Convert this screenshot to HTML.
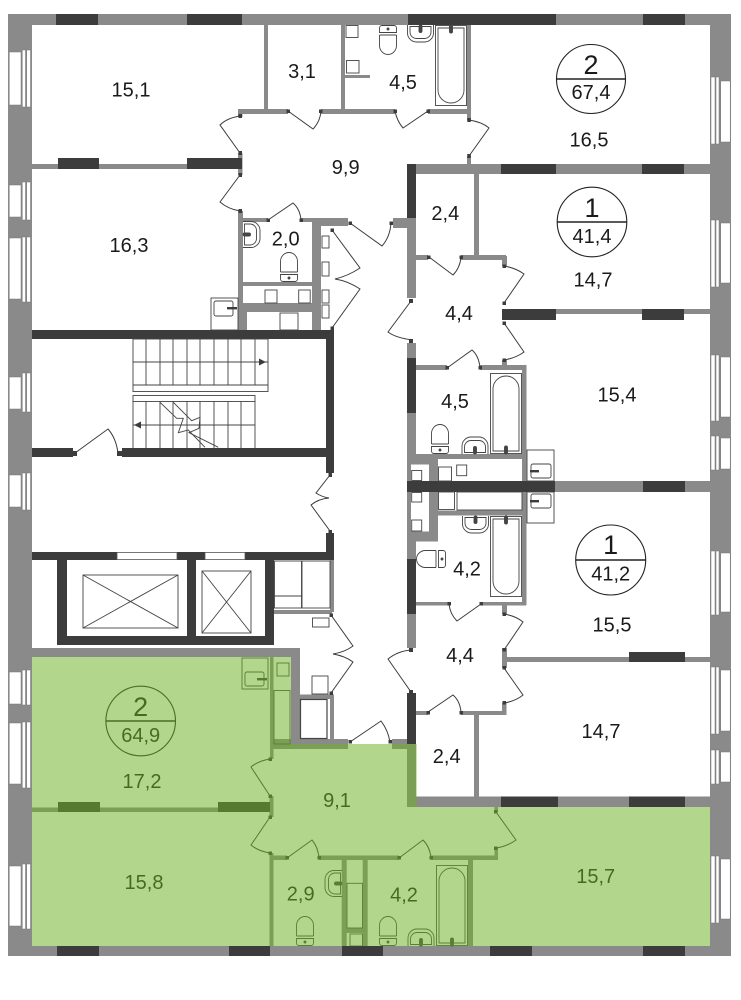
<!DOCTYPE html>
<html><head><meta charset="utf-8"><style>
html,body{margin:0;padding:0;background:#fff}
svg{display:block}
text{font-family:"Liberation Sans",sans-serif;fill:#1a1a1a;text-anchor:middle}
.l{font-size:20px}.n{font-size:27px}
.g{fill:#8a8a8a}.d{fill:#3c3c3c}
.s{fill:none;stroke:#444;stroke-width:.9}
.f{fill:#fff;stroke:#555;stroke-width:.8}
.w{fill:#fff;stroke:#777;stroke-width:.5}
.h{fill:#3c3c3c}
</style></head><body>
<svg width="741" height="1000" viewBox="0 0 741 1000" xmlns="http://www.w3.org/2000/svg">
<defs>
<g id="t" class="s"><path d="M0.5 20V9.5a8.5 9 0 0 1 17 0V20"/><path d="M0.5 22.5H17.5V27a2.5 2.5 0 0 1-2.5 2.5H3A2.5 2.5 0 0 1 0.5 27Z"/><line x1="0.5" y1="20" x2="17.5" y2="20"/><circle cx="9" cy="26" r="1" fill="#444"/></g>
<g id="k" class="s"><path d="M0.5 0V8a9 9 0 0 0 9 9H17.5a9 9 0 0 0 9-9V0"/><path d="M3 1.5H24V7a6.5 6.5 0 0 1-6.5 6.5H9.5A6.5 6.5 0 0 1 3 7Z"/><rect x="12" y="0" width="3" height="7.5" rx="1.5" fill="#444"/></g>
<g id="b" class="s"><rect x="0.5" y="0.5" width="31" height="80"/><path d="M3 3H29V65a13 13 0 0 1-26 0Z"/><rect x="14.5" y="0" width="3" height="8" rx="1.5" fill="#444"/></g>
</defs>

<!-- outer walls -->
<rect class="g" x="8" y="14" width="723" height="11"/>
<rect class="g" x="8" y="14" width="24" height="942"/>
<rect class="g" x="710" y="14" width="21" height="942"/>
<rect class="g" x="8" y="946" width="723" height="10"/>
<g class="d">
<rect x="56" y="14" width="42" height="11"/><rect x="187" y="14" width="55" height="11"/><rect x="408" y="14" width="148" height="11"/><rect x="643" y="14" width="42" height="11"/>
<rect x="57" y="946" width="42" height="10"/><rect x="229" y="946" width="41" height="10"/><rect x="342" y="946" width="41" height="10"/><rect x="490" y="946" width="42" height="10"/><rect x="643" y="946" width="42" height="10"/>
</g>

<!-- left windows -->
<g class="w">
<rect x="9.3" y="52" width="11.7" height="53"/><rect x="22.3" y="50" width="3.2" height="57"/><rect x="26.7" y="50" width="3.8" height="57"/>
<rect x="9.3" y="185" width="11.7" height="32"/><rect x="22.3" y="182" width="3.2" height="38"/><rect x="26.7" y="182" width="3.8" height="38"/>
<rect x="9.3" y="238" width="11.7" height="61"/><rect x="22.3" y="237" width="3.2" height="65"/><rect x="26.7" y="237" width="3.8" height="65"/>
<rect x="9.3" y="377" width="11.7" height="32"/><rect x="22.3" y="373" width="3.2" height="39"/><rect x="26.7" y="373" width="3.8" height="39"/>
<rect x="9.3" y="475" width="11.7" height="32"/><rect x="22.3" y="473" width="3.2" height="37"/><rect x="26.7" y="473" width="3.8" height="37"/>
<rect x="9.3" y="672" width="11.7" height="32"/><rect x="22.3" y="670" width="3.2" height="35"/><rect x="26.7" y="670" width="3.8" height="35"/>
<rect x="9.3" y="723" width="11.7" height="61"/><rect x="22.3" y="722" width="3.2" height="66"/><rect x="26.7" y="722" width="3.8" height="66"/>
<rect x="9.3" y="866" width="11.7" height="60"/><rect x="22.3" y="864" width="3.2" height="65"/><rect x="26.7" y="864" width="3.8" height="65"/>
<!-- right windows -->
<rect x="720.7" y="81" width="9.5" height="61"/><rect x="711" y="77" width="4" height="67"/><rect x="716" y="77" width="3" height="67"/>
<rect x="720.7" y="223" width="9.5" height="60"/><rect x="711" y="220" width="4" height="67"/><rect x="716" y="220" width="3" height="67"/>
<rect x="720.7" y="357" width="9.5" height="60"/><rect x="711" y="355" width="4" height="66"/><rect x="716" y="355" width="3" height="66"/>
<rect x="720.7" y="438" width="9.5" height="31"/><rect x="711" y="436" width="4" height="34"/><rect x="716" y="436" width="3" height="34"/>
<rect x="720.7" y="553" width="9.5" height="59"/><rect x="711" y="551" width="4" height="64"/><rect x="716" y="551" width="3" height="64"/>
<rect x="720.7" y="670" width="9.5" height="61"/><rect x="711" y="667" width="4" height="67"/><rect x="716" y="667" width="3" height="67"/>
<rect x="720.7" y="752" width="9.5" height="30"/><rect x="711" y="750" width="4" height="34"/><rect x="716" y="750" width="3" height="34"/>
<rect x="720.7" y="859" width="9.5" height="60"/><rect x="711" y="856" width="4" height="67"/><rect x="716" y="856" width="3" height="67"/>
</g>

<!-- interior gray walls -->
<g class="g">
<rect x="32" y="164" width="209" height="5"/>
<rect x="264" y="25" width="4" height="86"/>
<rect x="238" y="109" width="50" height="5"/><rect x="321" y="109" width="74" height="5"/><rect x="428" y="109" width="43" height="5"/>
<rect x="341" y="25" width="4" height="85"/><rect x="345" y="75" width="25" height="3"/>
<rect x="467" y="25" width="4" height="95"/><rect x="467" y="156" width="4" height="9"/>
<rect x="238" y="109" width="4.5" height="8"/><rect x="238" y="153" width="4.5" height="22"/>
<rect x="238" y="211" width="5" height="119"/>
<rect x="238" y="218" width="30" height="4"/><rect x="301" y="218" width="47" height="4"/><rect x="312" y="218" width="36" height="8"/>
<rect x="312" y="218" width="9" height="112"/>
<rect x="242" y="282" width="70" height="4"/><rect x="238" y="303" width="74" height="9"/><rect x="238" y="303" width="9" height="27"/>
<rect x="407" y="164" width="303" height="10"/>
<rect x="474" y="174" width="5" height="84"/>
<rect x="407" y="218" width="9" height="80"/><rect x="393" y="218" width="23" height="10"/>
<rect x="416" y="255" width="12" height="5"/><rect x="461" y="255" width="45" height="5"/><rect x="502" y="256" width="5" height="10"/>
<rect x="502" y="309" width="208" height="5"/>
<rect x="407" y="343" width="9" height="112"/><rect x="407" y="454" width="4" height="29"/><rect x="502" y="360" width="5" height="7"/>
<rect x="416" y="365" width="31" height="5"/><rect x="480" y="365" width="46.5" height="5"/>
<rect x="522" y="365" width="4.5" height="116"/><rect x="522" y="492" width="4.5" height="113"/>
<rect x="407" y="454" width="115" height="5"/><rect x="407" y="454" width="31" height="10.5"/><rect x="429" y="454" width="9" height="87.5"/><rect x="407" y="531.5" width="31" height="10"/>
<rect x="438" y="510.5" width="88" height="5"/>
<rect x="555" y="481" width="155" height="11"/>
<rect x="407" y="492" width="4" height="40"/><rect x="407" y="531" width="9" height="117"/>
<rect x="416" y="602" width="33" height="3.5"/><rect x="481" y="602" width="45" height="3.5"/>
<rect x="502" y="605" width="5" height="9"/><rect x="502" y="648" width="5" height="20"/>
<rect x="505" y="657" width="205" height="5"/>
<rect x="416" y="711" width="12" height="4"/><rect x="461" y="711" width="45" height="4"/><rect x="502" y="703" width="4.5" height="12"/>
<rect x="474" y="713" width="5" height="84"/>
<rect x="407" y="743" width="9" height="64"/><rect x="392" y="739" width="24" height="10"/>
<rect x="407" y="796.5" width="303" height="10.5"/>
<rect x="32" y="648" width="268" height="9"/><rect x="291" y="648" width="9" height="96"/>
<rect x="270" y="657" width="3.5" height="102"/>
<rect x="270" y="739" width="78" height="10"/>
<rect x="300" y="694.5" width="34" height="4.5"/><rect x="330" y="694.5" width="4" height="45"/>
<rect x="330" y="560" width="4" height="52"/><rect x="274" y="610" width="58" height="4"/>
<rect x="269.5" y="796" width="4" height="21"/><rect x="269.5" y="853" width="4" height="93"/>
<rect x="32" y="807.5" width="238" height="4.5"/>
<rect x="270" y="855.5" width="17" height="4.5"/><rect x="319" y="855.5" width="80" height="4.5"/><rect x="431" y="855.5" width="67" height="4.5"/>
<rect x="494.5" y="848" width="3.5" height="12"/><rect x="494.5" y="807" width="3.5" height="5"/>
<rect x="341.7" y="860" width="5" height="86"/><rect x="362.7" y="860" width="5" height="86"/><rect x="346" y="928" width="18" height="5"/>
<rect x="468" y="858" width="5" height="88"/>
</g>

<!-- dark walls -->
<g class="d">
<rect x="58" y="158" width="41" height="11"/><rect x="187" y="158" width="55" height="11"/>
<rect x="501" y="164" width="55" height="10"/><rect x="642" y="164" width="42" height="10"/>
<rect x="407" y="164" width="9" height="54"/>
<rect x="502" y="309" width="54" height="11"/><rect x="642" y="309" width="42" height="11"/>
<rect x="407" y="358" width="9" height="55"/>
<rect x="407" y="481" width="148" height="11"/><rect x="643" y="481" width="42" height="11"/>
<rect x="407" y="559" width="9" height="55"/>
<rect x="629" y="652" width="56" height="10"/>
<rect x="407" y="693" width="9" height="51"/>
<rect x="501" y="796.5" width="57" height="10.5"/><rect x="629" y="796.5" width="56" height="10.5"/>
<rect x="58" y="802" width="42" height="10"/><rect x="218" y="802" width="52" height="10"/>
<rect x="32" y="330" width="302" height="9"/>
<rect x="326" y="330" width="8" height="143"/>
<rect x="32" y="448" width="41" height="9"/><rect x="122" y="448" width="204" height="9"/>
<rect x="326" y="533" width="8" height="27"/>
<rect x="32" y="552" width="85" height="8"/><rect x="177" y="552" width="28" height="8"/><rect x="245" y="552" width="89" height="8"/>
<rect x="57" y="552" width="10" height="93"/><rect x="187" y="552" width="9" height="93"/><rect x="265" y="552" width="9" height="93"/>
<rect x="57" y="636" width="217" height="9"/>
</g>

<!-- elevator shaft windows, cars -->
<rect class="f" x="117" y="552.5" width="60" height="7"/><rect class="f" x="205" y="552.5" width="40" height="7"/>
<g class="s">
<rect x="83" y="575" width="95" height="53"/><path d="M83 575L178 628M178 575L83 628"/>
<rect x="202" y="571" width="49" height="62"/><path d="M202 571L251 633M251 571L202 633"/>
<!-- stairs -->
<rect x="133" y="339" width="135" height="46"/><line x1="133" y1="362" x2="268" y2="362"/>
<path d="M146 339V385M160 339V385M173 339V385M187 339V385M200 339V385M214 339V385M228 339V385M241 339V385M255 339V385"/>
<rect x="133" y="385" width="135" height="6.5"/><rect x="133" y="395.5" width="122" height="6"/>
<path d="M133 401V448M146 401V448M160 401V448M173 401V448M187 401V448M200 401V448M214 401V448M228 401V448M241 401V448M255 401V448M133 425H255"/>
</g>
<polygon points="176,408 191.7,420.7 200,417.3 199,428.3 189,432.7 205,448 218,448 189,420 183,418" fill="#fff" opacity="0"/>
<g fill="none" stroke="#444" stroke-width=".9">
<polyline points="160,402.3 176.7,418.3 183.3,418.3 178.3,432.7 188.3,430 205,447.3"/>
<polyline points="173.3,402.3 191.7,420.7 200,417.3 199,428.3 189,432.7 218.3,447.3"/>
</g>
<path class="h" d="M266 362L259 358.5V365.5Z M134 425L141 421.5V428.5Z"/>

<!-- fixtures: vents and squares -->
<g class="s">
<rect x="346" y="25.5" width="12" height="12"/><rect x="346.5" y="60.5" width="12.5" height="12.5"/>
<rect x="265" y="290" width="12" height="13"/><rect x="298.7" y="290" width="11.5" height="13"/><rect x="280" y="313" width="18" height="17"/>
<rect x="322" y="236" width="7" height="12"/><rect x="322" y="262" width="7" height="14"/><rect x="322" y="290" width="7" height="13"/><rect x="322" y="305" width="7" height="13"/>
<rect x="274.5" y="561" width="27" height="35"/><rect x="274.5" y="596" width="27" height="12"/><rect x="302" y="561" width="28" height="47"/>
<rect x="312.5" y="618" width="16.5" height="9"/><rect x="312" y="676" width="16" height="18"/>
<rect x="300.5" y="699.5" width="26.5" height="39" stroke-width="1.2"/>
<rect x="411.7" y="470.5" width="10" height="10"/><rect x="411.7" y="492.5" width="10" height="9.5"/><rect x="411.7" y="520" width="10" height="11"/>
<rect x="438.5" y="467" width="13" height="14"/><rect x="456.7" y="465" width="10" height="10.7"/>
<rect x="438.5" y="492" width="16" height="17.5"/><rect x="457" y="492" width="65" height="18"/>
<rect x="277" y="663" width="12" height="13"/><rect x="274" y="690.5" width="16" height="53.5"/>
<rect x="350" y="934" width="12.5" height="12"/><rect x="347" y="883.3" width="15.5" height="44.7"/>
</g>
<!-- kitchen sinks -->
<g class="s">
<rect x="211" y="298" width="27" height="32"/><rect x="214" y="301" width="19" height="15" rx="2"/>
<rect x="527" y="450" width="27" height="31"/><rect x="531" y="464" width="20" height="14" rx="2"/>
<rect x="527" y="492" width="27" height="31"/><rect x="531" y="494" width="20" height="14" rx="2"/>
<rect x="242" y="658" width="26" height="31"/><rect x="245" y="672" width="19" height="14" rx="2"/>
</g>
<g class="h"><rect x="227" y="307" width="10" height="2.4"/><rect x="530" y="470" width="9" height="2.4"/><rect x="530" y="500" width="9" height="2.4"/><rect x="257" y="678" width="10" height="2.4"/></g>

<!-- toilets, basins, baths -->
<use href="#t" x="280" y="252"/>
<use href="#t" x="431" y="424"/>
<use href="#t" x="296" y="916"/>
<use href="#t" x="379" y="916"/>
<use href="#t" transform="translate(397 55) rotate(180)"/>
<use href="#t" transform="translate(416 568) rotate(-90)"/>
<use href="#k" transform="translate(243 248) rotate(-90)"/>
<use href="#k" x="407" y="25"/>
<use href="#k" transform="translate(488.5 454) rotate(180)"/>
<use href="#k" x="462" y="516"/>
<use href="#k" transform="translate(342 870) rotate(90)"/>
<use href="#k" transform="translate(434.5 946) rotate(180)"/>
<use href="#b" x="435" y="25"/>
<use href="#b" transform="translate(522 454) rotate(180)"/>
<use href="#b" x="490" y="516"/>
<use href="#b" transform="translate(468 946) rotate(180)"/>

<!-- doors -->
<g fill="none" stroke="#3c3c3c" stroke-width="1">
<path d="M240 116Q227 118 220 125L240 153"/>
<path d="M240 175L220 202Q228 209 240 211"/>
<path d="M288 111L313 129Q320 122 321 111"/>
<path d="M395 111Q397 121 403 128L428 111"/>
<path d="M469 120Q482 122 489 128L469 156"/>
<path d="M268 220L293 203Q300 209 301 220"/>
<path d="M332 230L360 268Q348 276 335 279Q348 281 360 289L332 328"/>
<path d="M350 223L382 246Q390 237 391 223"/>
<path d="M429 257L453 275Q460 268 461 257"/>
<path d="M504 266Q516 268 524 274L504 303"/>
<path d="M411 301L388 332Q396 338 413 340"/>
<path d="M504 323L524 352Q516 358 504 360"/>
<path d="M447 368L472 350Q479 356 480 368"/>
<path d="M75 453L108 429Q116 438 118 453"/>
<path d="M330 475L316 493Q322 497 329 498Q318 499 311 505L330 531"/>
<path d="M449 604Q450 614 457 621L481 604"/>
<path d="M504 614Q516 616 523 622L504 650"/>
<path d="M411 650Q398 651 388 659L411 692"/>
<path d="M504 668L523 695Q516 701 504 703"/>
<path d="M428 712L453 695Q460 701 461 712"/>
<path d="M331 615L353 646Q345 652 333 654Q345 656 353 662L331 693"/>
<path d="M350 742L381 721Q388 730 390 742"/>
<path d="M270 759Q258 761 251 767L270 796"/>
<path d="M270 817L251 845Q258 851 270 853"/>
<path d="M287 858L312 840Q318 847 319 858"/>
<path d="M399 858L423 840Q430 847 431 858"/>
<path d="M496 812L516 840Q508 846 496 848"/>
</g>
<g class="h">
<rect x="238.5" y="114" width="3.5" height="4"/><rect x="238.5" y="151" width="3.5" height="4"/><rect x="238.5" y="173" width="3.5" height="4"/><rect x="238.5" y="209" width="3.5" height="4"/>
<rect x="286.5" y="109.5" width="3.5" height="3.5"/><rect x="319" y="109.5" width="3.5" height="3.5"/><rect x="393.5" y="109.5" width="3.5" height="3.5"/><rect x="426.5" y="109.5" width="3.5" height="3.5"/>
<rect x="467.3" y="118" width="3.5" height="4"/><rect x="467.3" y="154" width="3.5" height="4"/>
<rect x="266.5" y="218.5" width="3.5" height="3.5"/><rect x="299.5" y="218.5" width="3.5" height="3.5"/>
<rect x="330.5" y="228.5" width="3.5" height="3.5"/><rect x="348.5" y="221.5" width="3.5" height="3.5"/><rect x="389.5" y="221.5" width="3.5" height="3.5"/><rect x="330.5" y="326.5" width="3.5" height="3.5"/>
<rect x="427" y="255.5" width="3.5" height="3.5"/><rect x="459.5" y="255.5" width="3.5" height="3.5"/><rect x="502.5" y="264.5" width="3.5" height="3.5"/><rect x="502.5" y="301.5" width="3.5" height="3.5"/><rect x="502.5" y="321.5" width="3.5" height="3.5"/><rect x="502.5" y="358.5" width="3.5" height="3.5"/>
<rect x="409" y="299" width="4" height="4"/><rect x="409" y="339" width="4" height="4"/>
<rect x="445.5" y="366" width="3.5" height="3.5"/><rect x="478.5" y="366" width="3.5" height="3.5"/>
<rect x="73" y="451" width="4" height="5"/><rect x="117" y="451" width="5" height="5"/>
<rect x="328.5" y="473" width="3.5" height="4"/><rect x="328.5" y="530" width="3.5" height="4"/>
<rect x="447.5" y="602" width="3.5" height="3.5"/><rect x="479.5" y="602" width="3.5" height="3.5"/><rect x="502.5" y="612.5" width="3.5" height="3.5"/><rect x="502.5" y="648" width="3.5" height="3.5"/><rect x="409" y="648" width="4" height="4"/><rect x="409" y="690" width="4" height="4"/><rect x="502.5" y="666" width="3.5" height="3.5"/><rect x="502.5" y="701" width="3.5" height="3.5"/>
<rect x="426.5" y="711" width="3.5" height="3.5"/><rect x="459.5" y="711" width="3.5" height="3.5"/>
<rect x="329.5" y="613.5" width="3.5" height="3.5"/><rect x="329.5" y="691.5" width="3.5" height="3.5"/>
<rect x="348.5" y="740" width="3.5" height="3.5"/><rect x="388.5" y="740" width="3.5" height="3.5"/>
<rect x="268.5" y="757.5" width="3.5" height="3.5"/><rect x="268.5" y="794.5" width="3.5" height="3.5"/><rect x="268.5" y="815.5" width="3.5" height="3.5"/><rect x="268.5" y="851.5" width="3.5" height="3.5"/>
<rect x="285.5" y="856" width="3.5" height="3.5"/><rect x="317.5" y="856" width="3.5" height="3.5"/><rect x="397.5" y="856" width="3.5" height="3.5"/><rect x="429.5" y="856" width="3.5" height="3.5"/>
<rect x="494" y="810" width="3.5" height="3.5"/><rect x="494" y="846.5" width="3.5" height="3.5"/>
</g>

<!-- labels -->
<g class="l">
<text x="131" y="96.7">15,1</text><text x="302" y="78">3,1</text><text x="345.7" y="174">9,9</text>
<text x="129" y="252">16,3</text><text x="285.7" y="245.7">2,0</text><text x="403" y="89">4,5</text>
<text x="589" y="146.7">16,5</text><text x="445.3" y="220">2,4</text><text x="593" y="286.7">14,7</text>
<text x="459" y="320">4,4</text><text x="455" y="408">4,5</text><text x="617" y="401.7">15,4</text>
<text x="467" y="575.7">4,2</text><text x="612" y="631.7">15,5</text><text x="460" y="662">4,4</text>
<text x="601" y="738">14,7</text><text x="446.7" y="763">2,4</text><text x="595.7" y="883">15,7</text>
<text x="404" y="901.7">4,2</text><text x="142" y="788">17,2</text><text x="337" y="807">9,1</text>
<text x="144" y="889">15,8</text><text x="300.7" y="900.7">2,9</text>
</g>

<!-- apartment badges -->
<g fill="none" stroke="#222" stroke-width="1.1">
<circle cx="591" cy="79" r="34.5"/><line x1="556.5" y1="79" x2="625.5" y2="79" stroke-width="1.5"/>
<circle cx="592" cy="222" r="34.8"/><line x1="557" y1="222" x2="627" y2="222" stroke-width="1.5"/>
<circle cx="610.7" cy="560" r="35"/><line x1="575.7" y1="560" x2="645.7" y2="560" stroke-width="1.5"/>
<circle cx="140.7" cy="721" r="34.8"/><line x1="106" y1="721" x2="175.5" y2="721" stroke-width="1.5"/>
</g>
<text class="n" x="591" y="74">2</text><text class="l" x="591" y="99">67,4</text>
<text class="n" x="592" y="217">1</text><text class="l" x="592" y="243">41,4</text>
<text class="n" x="610.7" y="554">1</text><text class="l" x="610.7" y="580.7">41,2</text>
<text class="n" x="140.7" y="716">2</text><text class="l" x="140.7" y="742">64,9</text>

<!-- green apartment overlay -->
<polygon points="32,657 291,657 291,744 416.7,744 416.7,807 710,807 710,946 32,946" fill="#6db124" fill-opacity=".53"/>
</svg>
</body></html>
